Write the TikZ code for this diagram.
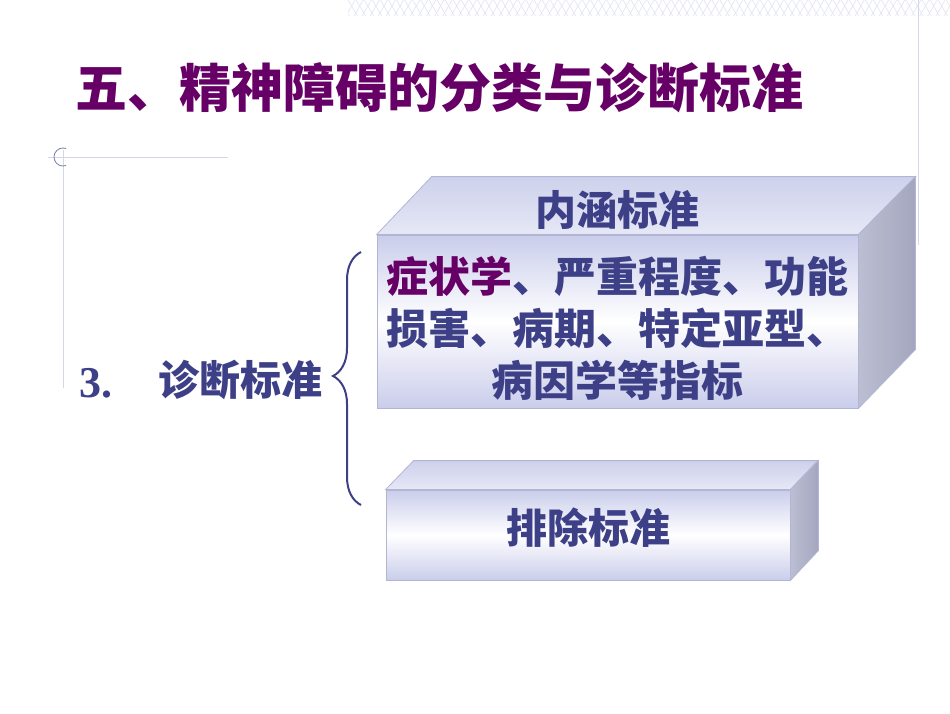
\documentclass[tikz,border=0pt]{standalone}
\usepackage{fontspec}
\setmainfont{Noto Sans CJK SC}
\newfontfamily\numfont{Liberation Serif}
\usepackage{tikz}
\usetikzlibrary{positioning,patterns.meta,decorations.pathreplacing}

\definecolor{ttlpurple}{HTML}{660066}
\definecolor{txtblue}{HTML}{3D4087}
\definecolor{facelav}{HTML}{CACDEB}
\definecolor{toplavA}{HTML}{CDD1EB}
\definecolor{toplavB}{HTML}{E6E8F6}
\definecolor{sidegrayA}{HTML}{A3A6BE}
\definecolor{sidegrayB}{HTML}{BCBFD2}
\definecolor{edgelav}{HTML}{B2B6D4}
\definecolor{decoline}{HTML}{D3D7EE}
\definecolor{hatchgray}{HTML}{E2E4F0}

\tikzset{
  frontface/.style={draw=edgelav, line width=0.8pt, inner sep=0pt,
    top color=facelav, bottom color=facelav, middle color=white},
  topface/.style={draw=edgelav, line width=0.8pt, top color=toplavA, bottom color=toplavB},
  sideface/.style={draw=edgelav, line width=0.8pt, left color=sidegrayB, right color=sidegrayA},
  boxtext/.style={text=txtblue, font=\fontsize{42}{52}\selectfont\bfseries, align=center},
  headtext/.style={text=txtblue, font=\fontsize{41}{48}\selectfont\bfseries},
}

\begin{document}
\begin{tikzpicture}[x=1pt,y=-1pt]
	\useasboundingbox (0,0) rectangle (950,713);
	\fill[white] (0,0) rectangle (950,713);
	% top strip and frame lines
	\fill[pattern={Lines[angle=60,distance=7pt,line width=0.6pt]}, pattern color=hatchgray] (348,0) rectangle (950,15);
	\fill[pattern={Lines[angle=-60,distance=7pt,line width=0.6pt]}, pattern color=hatchgray] (348,0) rectangle (950,15);
	\draw[decoline, line width=1pt] (918,0) -- (918,245);
	\draw[decoline, line width=1pt] (48,157) -- (228,157);
	\draw[decoline, line width=1pt] (63,150) -- (63,388);
	\draw[txtblue!60!decoline, line width=0.8pt] (63,157) ++(70:9) arc[start angle=70, end angle=290, radius=9];

	\node[text=ttlpurple, font=\fontsize{52}{60}\selectfont\bfseries, anchor=west] (title) at (72,88) {五、精神障碍的分类与诊断标准};

	% first box
	\node[frontface, minimum width=481, minimum height=173] (nh) at (617.5,321.5) {};
	\draw[topface] (nh.north west) -- ++(55,-58) -- ++(484,0) -- (nh.north east) -- cycle;
	\draw[sideface] (nh.north east) -- ++(57,-58) -- ++(0,173) -- (nh.south east) -- cycle;
	\node[headtext] (nhhead) at (617,210) {内涵标准};
	\node[boxtext] (nhbody) at (617,328) {{\color{ttlpurple}症状学}、严重程度、功能\\损害、病期、特定亚型、\\病因学等指标};

	% second box
	\node[frontface, minimum width=404, minimum height=90] (pc) at (588,535) {};
	\draw[topface] (pc.north west) -- ++(28,-29) -- ++(404,0) -- (pc.north east) -- cycle;
	\draw[sideface] (pc.north east) -- ++(28,-29) -- ++(0,90) -- (pc.south east) -- cycle;
	\node[headtext] (pchead) at (588,528) {排除标准};

	% label and brace
	\node[text=txtblue, font=\fontsize{44}{50}\selectfont\bfseries\numfont, anchor=west] (num) at (76,383) {3.};
	\node[text=txtblue, font=\fontsize{41}{48}\selectfont\bfseries, anchor=west] (zd) at (155,380) {诊断标准};
	\coordinate (bt) at (361,252);
	\coordinate (bb) at (361,505);
	\draw[txtblue, line width=2pt, decorate, decoration={brace, amplitude=28pt, aspect=0.51}] (bb) -- (bt);
\end{tikzpicture}
\end{document}
